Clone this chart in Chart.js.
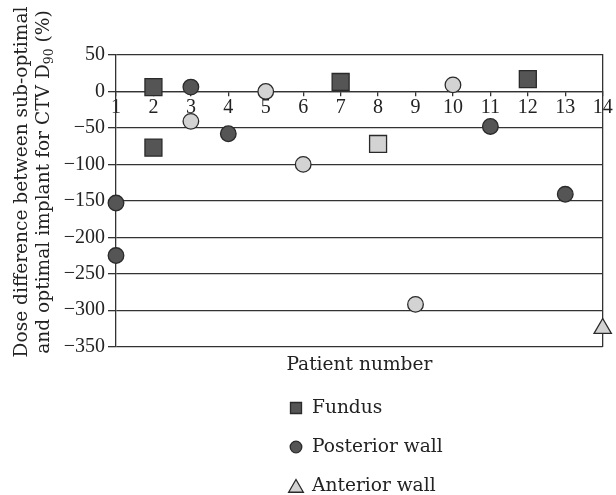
<!DOCTYPE html>
<html>
<head>
<meta charset="utf-8">
<script src="https://cdn.jsdelivr.net/npm/chart.js@4"></script>
<style>
html, body { margin: 0; padding: 0; background: #fff; }
#wrap { width: 616px; height: 495px; }
</style>
</head>
<body>
<div id="wrap"><canvas id="charts"></canvas></div>
<script>
// patient number / dose difference (%) per marker group
var fundusX = [2, 2, 7, 12];
var fundusY = [6, -77, 13, 17];
var posteriorX = [1, 1, 3, 4, 11, 13];
var posteriorY = [-153, -225, 6, -58, -48, -141];
var anteriorX = [14];
var anteriorY = [-325];
var lightCircleX = [3, 5, 6, 9, 10];
var lightCircleY = [-41, 0, -100, -292, 9];
var lightSquareX = [8];
var lightSquareY = [-72];

var legendLabels = ['Fundus', 'Posterior wall', 'Anterior wall'];
var yTitle1 = 'Dose difference between sub-optimal';
var yTitle2 = ['and optimal implant for CTV D', '90', ' (%)'];
var xTitle = 'Patient number';

var dark = '#555555', light = '#d3d3d3', edge = '#2a2a2a', line = '#333333';
var serif = 'DejaVu Serif';
var numFont = 'Liberation Serif';

function pts(xs, ys) {
    return xs.map(function (x, i) { return { x: x, y: ys[i] }; });
}

function minus(v) {
    return v < 0 ? '\u2212' + Math.abs(v) : '' + v;
}

// y title (with subscript) and the stacked legend
var extras = {
    id: 'extras',
    afterDraw: function (chart) {
        var ctx = chart.ctx;
        var cy = 182;
        var big = '18.6px "' + serif + '"', small = '12.5px "' + serif + '"';
        ctx.save();
        ctx.fillStyle = '#222';
        ctx.font = big;
        ctx.textBaseline = 'alphabetic';

        ctx.save();
        ctx.translate(27, cy);
        ctx.rotate(-Math.PI / 2);
        ctx.textAlign = 'center';
        ctx.fillText(yTitle1, 0, 0);
        ctx.restore();

        ctx.save();
        ctx.translate(49, cy);
        ctx.rotate(-Math.PI / 2);
        ctx.textAlign = 'left';
        ctx.font = big;
        var w0 = ctx.measureText(yTitle2[0]).width;
        var w2 = ctx.measureText(yTitle2[2]).width;
        ctx.font = small;
        var w1 = ctx.measureText(yTitle2[1]).width;
        var x = -(w0 + w1 + w2) / 2;
        ctx.font = big;
        ctx.fillText(yTitle2[0], x, 0);
        ctx.font = small;
        ctx.fillText(yTitle2[1], x + w0, 4);
        ctx.font = big;
        ctx.fillText(yTitle2[2], x + w0 + w1, 0);
        ctx.restore();

        var styles = [
            { pointStyle: 'rect', radius: 7.8, fill: dark },
            { pointStyle: 'circle', radius: 5.8, fill: dark },
            { pointStyle: 'triangle', radius: 8.5, fill: light }
        ];
        var ys = [408, 447, 486];
        ctx.font = big;
        ctx.textAlign = 'left';
        ctx.textBaseline = 'middle';
        for (var i = 0; i < legendLabels.length; i++) {
            var s = styles[i];
            ctx.fillStyle = s.fill;
            ctx.strokeStyle = edge;
            ctx.lineWidth = 1.3;
            Chart.helpers.drawPoint(ctx, { pointStyle: s.pointStyle, radius: s.radius, borderWidth: 1.3, rotation: 0 },
                296, i === 2 ? ys[i] + 2 : ys[i]);
            ctx.fillStyle = '#222';
            ctx.fillText(legendLabels[i], 312, ys[i]);
        }
        ctx.restore();
    }
};

var ctx = document.getElementById('charts');
new Chart(ctx, {
    type: 'scatter',
    data: {
        datasets: [{
            label: legendLabels[0],
            data: pts(fundusX, fundusY),
            pointStyle: 'rect',
            pointRadius: 12,
            pointHoverRadius: 12,
            backgroundColor: dark,
            borderColor: edge,
            borderWidth: 1.3,
            clip: false
        }, {
            label: legendLabels[1],
            data: pts(posteriorX, posteriorY),
            pointStyle: 'circle',
            pointRadius: 7.8,
            pointHoverRadius: 7.8,
            backgroundColor: dark,
            borderColor: edge,
            borderWidth: 1.3,
            clip: false
        }, {
            label: legendLabels[2],
            data: pts(anteriorX, anteriorY),
            pointStyle: 'triangle',
            pointRadius: 10,
            pointHoverRadius: 10,
            backgroundColor: light,
            borderColor: edge,
            borderWidth: 1.3,
            clip: false
        }, {
            label: '',
            data: pts(lightCircleX, lightCircleY),
            pointStyle: 'circle',
            pointRadius: 7.8,
            pointHoverRadius: 7.8,
            backgroundColor: light,
            borderColor: edge,
            borderWidth: 1.3,
            clip: false
        }, {
            label: '',
            data: pts(lightSquareX, lightSquareY),
            pointStyle: 'rect',
            pointRadius: 12,
            pointHoverRadius: 12,
            backgroundColor: light,
            borderColor: edge,
            borderWidth: 1.3,
            clip: false
        }]
    },
    options: {
        responsive: true,
        maintainAspectRatio: false,
        animation: false,
        layout: { padding: { top: 55, right: 6, bottom: 119, left: 0 } },
        plugins: {
            legend: { display: false },
            tooltip: { enabled: false }
        },
        scales: {
            x: {
                type: 'linear',
                min: 1,
                max: 14,
                position: { y: 0 },
                ticks: { stepSize: 1, padding: 0, color: '#222', font: { family: numFont, size: 20 } },
                grid: { drawOnChartArea: false, drawTicks: true, tickLength: 4, color: line, lineWidth: 1.3 },
                border: { display: true, color: line, width: 1.3 }
            },
            x2: {
                type: 'linear',
                min: 1,
                max: 14,
                position: 'bottom',
                ticks: { display: false },
                grid: { display: false, drawTicks: false },
                border: { display: false },
                title: {
                    display: true,
                    text: xTitle,
                    color: '#222',
                    font: { family: serif, size: 18.6 },
                    padding: { top: 7, bottom: 0 }
                }
            },
            y: {
                min: -350,
                max: 50,
                ticks: { stepSize: 50, padding: 3, color: '#222', font: { family: numFont, size: 20 }, callback: minus },
                grid: { color: line, lineWidth: 1.3, tickLength: 8 },
                border: { display: true, color: line, width: 1.3 },
                afterFit: function (s) { s.width = 116; }
            },
            y2: {
                min: -350,
                max: 50,
                position: 'right',
                ticks: { display: false },
                grid: { display: false, drawTicks: false },
                border: { display: true, color: line, width: 1.3 },
                afterFit: function (s) { s.width = 0; }
            }
        }
    },
    plugins: [extras]
});
</script>
</body>
</html>
